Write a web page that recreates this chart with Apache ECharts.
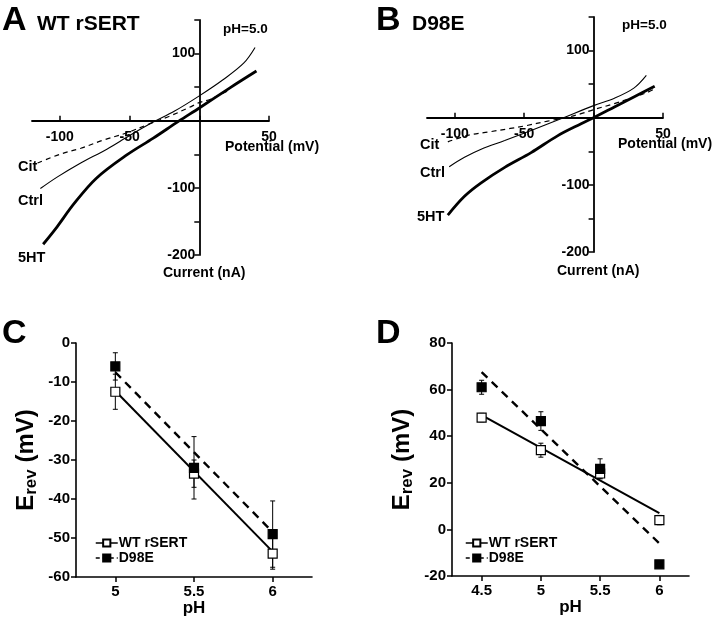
<!DOCTYPE html>
<html><head><meta charset="utf-8">
<script src="https://cdn.jsdelivr.net/npm/echarts@6/dist/echarts.min.js"></script>
<style>html,body{margin:0;padding:0;background:#fff}#c{width:720px;height:621px}</style>
</head><body><div id="c"></div>
<script>
// ---------- Panel A: WT rSERT, pH 5.0  (potential mV, current nA)
const aCit  = [[-116,-63],[-100,-50],[-85,-41],[-69,-29],[-52,-18],[-35,-4],[-21,7],[-7,20],[0,27],[8,32],[17,41],[22,46]];
const aCtrl = [[-114,-101],[-102,-84],[-86,-64],[-66,-42],[-50,-22],[-33,-2],[-18,14],[0,37],[17,61],[32,86],[40,109]];
const a5HT  = [[-112,-184],[-102,-158],[-90,-124],[-74,-86],[-52,-51],[-33,-26],[-15,-1],[0,19],[22,49],[41,74]];
// ---------- Panel B: D98E, pH 5.0
const bCit  = [[-105,-36],[-90,-26],[-75,-21],[-60,-16],[-49,-12],[-33,-5],[-20,0],[-9,6],[0,12],[15,21],[25,28],[32,33],[38,37],[44,43]];
const bCtrl = [[-104,-73],[-93,-59],[-81,-47],[-64,-34],[-45,-19],[-24,-2],[0,18],[15,29],[29,44],[38,63]];
const b5HT  = [[-105,-145],[-93,-117],[-81,-97],[-64,-74],[-45,-52],[-26,-27],[-9,-9],[0,0],[15,16],[29,31],[44,47]];
// I-V axis ranges and ticks
const ivXRange = [-120, 50];
const ivYRange = [-200, 150];
const ivXTicks = [-100, -50, 0, 50];
const ivXLabels = [-100, -50, 50];
const ivYLabels = [100, -100, -200];
// ---------- Panel C: Erev vs pH
const cPH = [5, 5.5, 6];
const cWT = [-12.5, -33.5, -54];
const cWTerr = [4.5, 3.5, 4];
const cD98E = [-6, -32, -49];
const cD98Eerr = [3.5, 8, 8.5];
const cFitPH = [5, 6];
const cWTfit = [-12.3, -53.5];
const cD98Efit = [-7.5, -48.5];
// ---------- Panel D
const dPH = [4.5, 5, 5.5, 6];
const dWT = [48, 34, 24, 4];
const dWTerr = [1.8, 3, 2, 2];
const dD98E = [61, 46.5, 26, -15];
const dD98Eerr = [3, 4, 4.3, 0];
const dFitPH = [4.5, 6];
const dWTfit = [49, 7];
const dD98Efit = [67.5, -6];

const FONT = "'Liberation Sans', Arial, sans-serif";
const pairs = (xs, ys) => xs.map((x, i) => [x, ys[i]]);
const errData = (xs, ys, es) => xs.map((x, i) => [x, ys[i] - es[i], ys[i] + es[i]]);

const grids = [
  {left: 32, top: 20, width: 237, height: 235},
  {left: 427, top: 17, width: 236, height: 235},
  {left: 76, top: 343, width: 236, height: 234},
  {left: 452, top: 343, width: 237, height: 233}
];

const chart = echarts.init(document.getElementById('c'), null, {renderer: 'canvas'});

// axes crossing at zero: shift each axis from the grid edge to the zero of the other axis
function ivX(grid) {
  const g = grids[grid];
  const off = -g.height * (0 - ivYRange[0]) / (ivYRange[1] - ivYRange[0]);
  return {
    type: 'value', gridIndex: grid, min: ivXRange[0], max: ivXRange[1], offset: off,
    axisLine: {onZero: false, lineStyle: {color: '#000', width: 1.8}},
    axisTick: {inside: true, length: 5, customValues: ivXTicks, lineStyle: {color: '#000', width: 1.5}},
    axisLabel: {customValues: ivXLabels, color: '#000', fontFamily: FONT, fontWeight: 'bold', fontSize: 14, margin: 9},
    splitLine: {show: false}
  };
}
function ivY(grid) {
  const g = grids[grid];
  const off = -g.width * (0 - ivXRange[0]) / (ivXRange[1] - ivXRange[0]);
  return {
    type: 'value', gridIndex: grid, min: ivYRange[0], max: ivYRange[1], interval: 50, offset: off,
    axisLine: {onZero: false, lineStyle: {color: '#000', width: 1.8}},
    axisTick: {length: 5, lineStyle: {color: '#000', width: 1.5}},
    axisLabel: {customValues: ivYLabels, color: '#000', fontFamily: FONT, fontWeight: 'bold', fontSize: 14, margin: 4},
    splitLine: {show: false}
  };
}
function phX(grid, min, ticks) {
  return {
    type: 'value', gridIndex: grid, min: min, max: 6.25,
    name: 'pH', nameLocation: 'middle', nameGap: 22,
    nameTextStyle: {color: '#000', fontFamily: FONT, fontWeight: 'bold', fontSize: 17},
    axisLine: {onZero: false, lineStyle: {color: '#000', width: 1.6}},
    axisTick: {length: 5, customValues: ticks, lineStyle: {color: '#000', width: 1.5}},
    axisLabel: {customValues: ticks, color: '#000', fontFamily: FONT, fontWeight: 'bold', fontSize: 15, margin: 7,
      formatter: v => String(v)},
    splitLine: {show: false}
  };
}
function erevY(grid, min, max, interval) {
  return {
    type: 'value', gridIndex: grid, min: min, max: max, interval: interval,
    name: '{e|E}{s|rev}{e| (mV)}', nameLocation: 'middle', nameGap: 36, nameRotate: 90,
    nameTextStyle: {color: '#000', fontFamily: FONT, fontWeight: 'bold', fontSize: 24,
      rich: {e: {fontFamily: FONT, fontWeight: 'bold', fontSize: 24, color: '#000'},
             s: {fontFamily: FONT, fontWeight: 'bold', fontSize: 17, color: '#000', padding: [10, 0, 0, 0]}}},
    axisLine: {onZero: false, lineStyle: {color: '#000', width: 1.6}},
    axisTick: {length: 5, lineStyle: {color: '#000', width: 1.5}},
    axisLabel: {color: '#000', fontFamily: FONT, fontWeight: 'bold', fontSize: 15, margin: 6},
    splitLine: {show: false}
  };
}
function ivLine(name, data, grid, width, dashed) {
  return {
    type: 'line', name: name, xAxisIndex: grid, yAxisIndex: grid, data: data,
    smooth: 0.35, symbol: 'none', silent: true,
    lineStyle: {color: '#000', width: width, type: dashed ? [5, 4] : 'solid'}
  };
}
function errSeries(grid, data) {
  return {
    type: 'custom', xAxisIndex: grid, yAxisIndex: grid, data: data, z: 1, silent: true,
    renderItem: function (params, api) {
      const x = api.value(0);
      const lo = api.coord([x, api.value(1)]);
      const hi = api.coord([x, api.value(2)]);
      const w = 2.5;
      const st = {stroke: '#000', lineWidth: 1};
      return {type: 'group', children: [
        {type: 'line', shape: {x1: lo[0], y1: lo[1], x2: hi[0], y2: hi[1]}, style: st},
        {type: 'line', shape: {x1: lo[0] - w, y1: lo[1], x2: lo[0] + w, y2: lo[1]}, style: st},
        {type: 'line', shape: {x1: hi[0] - w, y1: hi[1], x2: hi[0] + w, y2: hi[1]}, style: st}
      ]};
    }
  };
}
function pointSeries(name, grid, data, filled) {
  return {
    type: 'line', name: name, xAxisIndex: grid, yAxisIndex: grid, data: data, z: 5,
    symbol: 'rect', symbolSize: 9, showAllSymbol: true, silent: true,
    lineStyle: {opacity: 0, color: '#000', width: 1.5, type: filled ? [4, 3] : 'solid'},
    itemStyle: {color: filled ? '#000' : '#fff', borderColor: '#000', borderWidth: 1.2}
  };
}
function fitSeries(grid, data, dashed) {
  return {
    type: 'line', xAxisIndex: grid, yAxisIndex: grid, data: data, symbol: 'none', z: 3, silent: true,
    lineStyle: {color: '#000', width: dashed ? 2.4 : 2, type: dashed ? [8, 6] : 'solid'}
  };
}
function legendFor(left, top) {
  return {
    left: left, top: top, orient: 'vertical', itemGap: 1, itemWidth: 22, itemHeight: 9, padding: 0,
    selectedMode: false,
    textStyle: {color: '#000', fontFamily: FONT, fontWeight: 'bold', fontSize: 14, padding: [0, 0, 0, -4]},
    data: [
      {name: 'WT rSERT', lineStyle: {opacity: 1, type: 'solid', width: 1.5, color: '#000'}},
      {name: 'D98E', lineStyle: {opacity: 1, type: [4, 3], width: 1.5, color: '#000'}}
    ]
  };
}
function txt(x, y, s, size, align) {
  return {type: 'text', x: x, y: y, style: {text: s, fill: '#000', font: 'bold ' + size + 'px ' + FONT,
    textAlign: align || 'left', textVerticalAlign: 'middle'}};
}

const option = {
  backgroundColor: '#fff',
  animation: false,
  grid: grids,
  xAxis: [ivX(0), ivX(1), phX(2, 4.75, cPH), phX(3, 4.25, dPH)],
  yAxis: [ivY(0), ivY(1), erevY(2, -60, 0, 10), erevY(3, -20, 80, 20)],
  legend: [legendFor(95, 536), legendFor(465, 536)],
  series: [
    ivLine('A Cit', aCit, 0, 1.2, true),
    ivLine('A Ctrl', aCtrl, 0, 1.1, false),
    ivLine('A 5HT', a5HT, 0, 2.8, false),
    ivLine('B Cit', bCit, 1, 1.2, true),
    ivLine('B Ctrl', bCtrl, 1, 1.1, false),
    ivLine('B 5HT', b5HT, 1, 2.8, false),
    errSeries(2, errData(cPH, cWT, cWTerr)),
    errSeries(2, errData(cPH, cD98E, cD98Eerr)),
    fitSeries(2, pairs(cFitPH, cWTfit), false),
    fitSeries(2, pairs(cFitPH, cD98Efit), true),
    pointSeries('WT rSERT', 2, pairs(cPH, cWT), false),
    pointSeries('D98E', 2, pairs(cPH, cD98E), true),
    errSeries(3, errData(dPH, dWT, dWTerr)),
    errSeries(3, errData(dPH, dD98E, dD98Eerr)),
    fitSeries(3, pairs(dFitPH, dWTfit), false),
    fitSeries(3, pairs(dFitPH, dD98Efit), true),
    pointSeries('WT rSERT', 3, pairs(dPH, dWT), false),
    pointSeries('D98E', 3, pairs(dPH, dD98E), true)
  ],
  graphic: [
    txt(2, 21, 'A', 34), txt(37, 24, 'WT rSERT', 21), txt(223, 29, 'pH=5.0', 13.5),
    txt(225, 147, 'Potential (mV)', 14), txt(163, 273, 'Current (nA)', 14),
    txt(18, 167, 'Cit', 14.5), txt(18, 201, 'Ctrl', 14.5), txt(18, 258, '5HT', 14.5),
    txt(376, 21, 'B', 34), txt(412, 24, 'D98E', 21), txt(622, 25, 'pH=5.0', 13.5),
    txt(618, 144, 'Potential (mV)', 14), txt(557, 271, 'Current (nA)', 14),
    txt(420, 145, 'Cit', 14.5), txt(420, 173, 'Ctrl', 14.5), txt(417, 217, '5HT', 14.5),
    txt(2, 334, 'C', 34), txt(376, 334, 'D', 34)
  ]
};
chart.setOption(option);
</script>
</body></html>
